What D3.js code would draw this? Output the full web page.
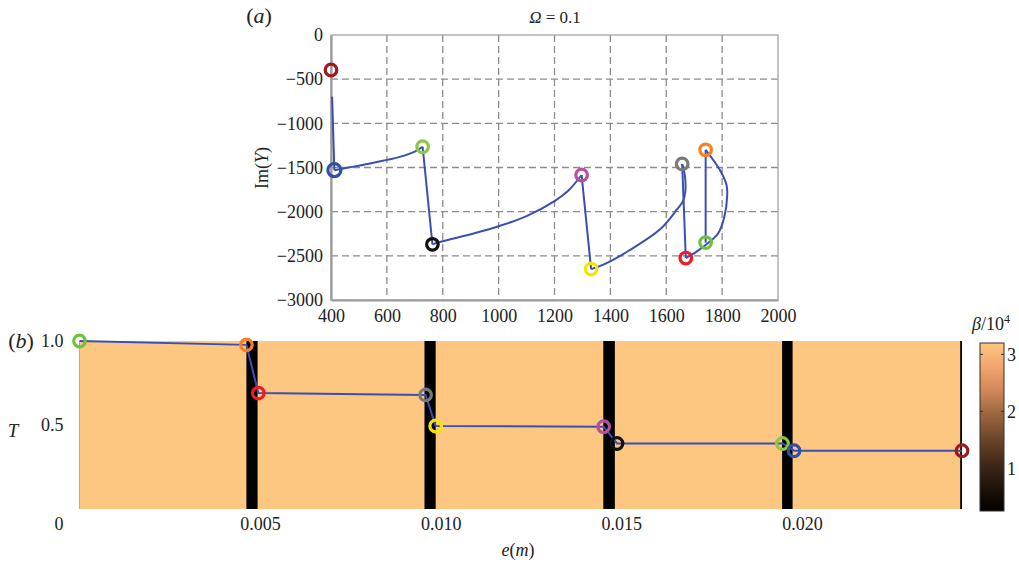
<!DOCTYPE html>
<html><head><meta charset="utf-8">
<script src="https://cdn.jsdelivr.net/npm/d3@7"></script>
<style>
html,body{margin:0;padding:0;background:#fff;}
svg{display:block;}
svg text{font-family:"Liberation Serif","Times New Roman",serif !important;fill:#222;}
</style></head>
<body>
<svg id="chart" width="1019" height="564"></svg>
<script>
// ---------- DATA ----------
// state markers (same order in both panels)
const markerColors = ["#72bf44", "#f7821f", "#ee1c25", "#7a7a7a", "#f2e600", "#b5519f", "#111111", "#8dc63f", "#2f4fa8", "#a3181f"];
// panel (a): Re/Im positions of markers
const reY = [1741, 1741, 1670, 1657, 1331, 1297, 763, 728, 412, 400];
const imY = [-2350, -1300, -2525, -1460, -2650, -1585, -2370, -1265, -1530, -396];
// panel (a): trajectory traced by the blue line
const pathRe = [1741, 1741, 1792, 1816, 1818, 1808, 1786, 1752, 1710, 1670,
                1657, 1667, 1668, 1660, 1637, 1578, 1470, 1375, 1331,
                1297, 1250, 1200, 1100, 1000, 900, 800, 763,
                728, 700, 640, 560, 480, 412, 404];
const pathIm = [-2350, -1300, -1528, -1700, -1830, -2057, -2245, -2350, -2450, -2525,
                -1460, -1600, -1780, -1880, -1981, -2200, -2434, -2600, -2650,
                -1585, -1760, -1880, -2050, -2165, -2255, -2335, -2370,
                -1265, -1320, -1385, -1440, -1490, -1530, -700];
// indices where the trajectory has a corner (segment boundaries)
const cornerIdx = [0, 1, 9, 10, 18, 19, 26, 27, 32, 33];
// panel (b): control path e (m) and T
const eVals = [0, 0.00462, 0.00495, 0.00958, 0.00986, 0.01451, 0.01488, 0.01946, 0.01978, 0.02443];
const tVals = [1.0, 0.977, 0.69, 0.679, 0.494, 0.49, 0.39, 0.39, 0.347, 0.347];
// panel (b): beta field (x10^4): background and low-beta bands
const betaBackground = 3.2;
const bandStart = [0.00462, 0.00955, 0.01450, 0.01945, 0.02438];
const bandEnd   = [0.00493, 0.00986, 0.01482, 0.01974, 0.02443];
const bandBeta  = [0.25, 0.25, 0.25, 0.25, 0.25];
// axes ticks
const reTicks = [400, 600, 800, 1000, 1200, 1400, 1600, 1800, 2000];
const imTicks = [0, -500, -1000, -1500, -2000, -2500, -3000];
const eTicks = [0, 0.005, 0.010, 0.015, 0.020];
const eTickLabels = ["0", "0.005", "0.010", "0.015", "0.020"];
const tTicks = [0.5, 1.0];
const betaTicks = [1, 2, 3];
// colormap stops (beta/10^4 -> colour)
const cmapVals = [0.25, 0.5, 1.0, 1.5, 2.0, 2.4, 2.8, 3.2];
const cmapCols = ["#000000", "#140b06", "#3a2416", "#6a4428", "#a26a43", "#d48a5a", "#f2a66f", "#fdc782"];

// ---------- DRAW ----------
const svg = d3.select("#chart");
const lineCol = "#3a4fb2";
const serif = '"Liberation Serif","Times New Roman",serif';

// ===== Panel (a) =====
const xa = d3.scaleLinear().domain([400, 2000]).range([331, 778]);
const ya = d3.scaleLinear().domain([-3000, 0]).range([300, 35]);
const ga = svg.append("g");

// grid
ga.selectAll("line.gx").data(reTicks.slice(1, -1)).join("line")
  .attr("x1", d => xa(d)).attr("x2", d => xa(d)).attr("y1", ya(0)).attr("y2", ya(-3000))
  .attr("stroke", "#8c8c8c").attr("stroke-width", 1.3).attr("stroke-dasharray", "7,4");
ga.selectAll("line.gy").data(imTicks.slice(1, -1)).join("line")
  .attr("y1", d => ya(d)).attr("y2", d => ya(d)).attr("x1", xa(400)).attr("x2", xa(2000))
  .attr("stroke", "#8c8c8c").attr("stroke-width", 1.3).attr("stroke-dasharray", "7,4");
// frame
ga.append("rect").attr("x", xa(400)).attr("y", ya(0)).attr("width", xa(2000) - xa(400)).attr("height", ya(-3000) - ya(0))
  .attr("fill", "none").attr("stroke", "#a5a5a5").attr("stroke-width", 1.3);

// axes via d3
const axB = d3.axisBottom(xa).tickValues(reTicks).tickSize(0).tickPadding(9).tickFormat(d3.format("d"));
const axL = d3.axisLeft(ya).tickValues(imTicks).tickSize(0).tickPadding(8).tickFormat(d3.format("d"));
const gB = ga.append("g").attr("transform", `translate(0,${ya(-3000)})`).call(axB);
const gL = ga.append("g").attr("transform", `translate(${xa(400)},0)`).call(axL);
[gB, gL].forEach(g => {
  g.attr("font-family", null);
  g.select(".domain").attr("stroke", "#9a9a9a").attr("stroke-width", 2.2);
  g.selectAll("text").style("font-family", serif).style("font-size", "18px").attr("fill", "#222");
});

// trajectory, drawn piecewise (smooth within a piece, corners between pieces)
const pathPts = pathRe.map((v, i) => [v, pathIm[i]]);
const pieces = d3.pairs(cornerIdx).map(([a, b]) => pathPts.slice(a, b + 1));
ga.selectAll("path.traj").data(pieces).join("path")
  .attr("d", d3.line().x(d => xa(d[0])).y(d => ya(d[1])).curve(d3.curveCatmullRom.alpha(0.5)))
  .attr("fill", "none").attr("stroke", lineCol).attr("stroke-width", 2).attr("stroke-linejoin", "round");
// markers
ga.selectAll("circle.m").data(reY.map((v, i) => ({x: v, y: imY[i], c: markerColors[i], i}))).join("circle")
  .attr("cx", d => xa(d.x)).attr("cy", d => ya(d.y)).attr("r", d => d.i === 8 ? 6.5 : 5.8)
  .attr("fill", "none").attr("stroke", d => d.c).attr("stroke-width", 3.2);

// labels
svg.append("text").attr("x", 259).attr("y", 23).attr("text-anchor", "middle").style("font-size", "22px")
  .html('(<tspan font-style="italic">a</tspan>)');
svg.append("text").attr("x", 555).attr("y", 23).attr("text-anchor", "middle").style("font-size", "17px")
  .html('<tspan font-style="italic">Ω</tspan> = 0.1');
svg.append("text").attr("transform", "translate(268,168) rotate(-90)").attr("text-anchor", "middle").style("font-size", "18px")
  .html('Im(<tspan font-style="italic">Y</tspan>)');

// ===== Panel (b) =====
const xb = d3.scaleLinear().domain([0, 0.02443]).range([79.5, 962]);
const yb = d3.scaleLinear().domain([0, 1]).range([509, 341]);
const cmap = d3.scaleLinear().domain(cmapVals).range(cmapCols).clamp(true);
const gb = svg.append("g");

gb.append("rect").attr("x", xb(0)).attr("y", yb(1)).attr("width", xb(0.02443) - xb(0)).attr("height", yb(0) - yb(1))
  .attr("fill", cmap(betaBackground));
gb.append("line").attr("x1", xb(0)).attr("x2", xb(0)).attr("y1", yb(1)).attr("y2", yb(0))
  .attr("stroke", "#b0b0b0").attr("stroke-width", 1);
gb.selectAll("rect.band").data(bandStart.map((s, i) => ({s, e: bandEnd[i], b: bandBeta[i]}))).join("rect")
  .attr("x", d => xb(d.s)).attr("width", d => Math.max(1.5, xb(d.e) - xb(d.s)))
  .attr("y", yb(1)).attr("height", yb(0) - yb(1)).attr("fill", d => cmap(d.b));

// axes (labels only)
const axBb = d3.axisBottom(xb).tickValues(eTicks).tickSize(0).tickPadding(8)
  .tickFormat((d, i) => eTickLabels[i]);
const gBb = gb.append("g").attr("transform", `translate(0,${yb(0)})`).call(axBb);
gBb.select(".domain").remove();
gBb.selectAll("text").style("font-family", serif).style("font-size", "18px").attr("fill", "#222");
gBb.selectAll(".tick").filter(d => d === 0).select("text").attr("dx", -21);
const axLb = d3.axisLeft(yb).tickValues(tTicks).tickSize(0).tickPadding(16).tickFormat(d3.format(".1f"));
const gLb = gb.append("g").attr("transform", `translate(${xb(0)},0)`).call(axLb);
gLb.select(".domain").remove();
gLb.selectAll("text").style("font-family", serif).style("font-size", "18px").attr("fill", "#222");

// path
const ctrlPts = eVals.map((v, i) => [v, tVals[i]]);
gb.append("path").datum(ctrlPts)
  .attr("d", d3.line().x(d => xb(d[0])).y(d => yb(d[1])))
  .attr("fill", "none").attr("stroke", lineCol).attr("stroke-width", 2);
gb.selectAll("circle.mb").data(ctrlPts.map((p, i) => ({p, c: markerColors[i], i}))).join("circle")
  .attr("cx", d => xb(d.p[0])).attr("cy", d => yb(d.p[1])).attr("r", 5.8)
  .attr("fill", "none").attr("stroke", d => d.c).attr("stroke-width", 3.2);

svg.append("text").attr("x", 21).attr("y", 348).attr("text-anchor", "middle").style("font-size", "22px")
  .html('(<tspan font-style="italic">b</tspan>)');
svg.append("text").attr("x", 13).attr("y", 437).attr("text-anchor", "middle").style("font-size", "19px")
  .style("font-style", "italic").text("T");
svg.append("text").attr("x", 518).attr("y", 556).attr("text-anchor", "middle").style("font-size", "18px")
  .html('<tspan font-style="italic">e</tspan>(<tspan font-style="italic">m</tspan>)');

// colour bar
const cb = d3.scaleLinear().domain([0.25, 3.2]).range([511, 343]);
const defs = svg.append("defs");
const grad = defs.append("linearGradient").attr("id", "cbgrad").attr("x1", 0).attr("x2", 0).attr("y1", 1).attr("y2", 0);
cmapVals.forEach((v, i) => grad.append("stop").attr("offset", (v - 0.25) / (3.2 - 0.25)).attr("stop-color", cmapCols[i]));
svg.append("rect").attr("x", 980).attr("y", cb(3.2)).attr("width", 24).attr("height", cb(0.25) - cb(3.2))
  .attr("fill", "url(#cbgrad)").attr("stroke", "#333").attr("stroke-width", 1);
const gcb = svg.append("g").attr("transform", "translate(1004,0)")
  .call(d3.axisRight(cb).tickValues(betaTicks).tickSize(0).tickPadding(3).tickFormat(d3.format("d")));
gcb.select(".domain").remove();
gcb.selectAll("text").style("font-family", serif).style("font-size", "18px").attr("fill", "#222");
svg.selectAll("line.cbt").data(betaTicks).join("line")
  .attr("x1", 980).attr("x2", 983).attr("y1", d => cb(d)).attr("y2", d => cb(d)).attr("stroke", "#333");
svg.selectAll("line.cbt2").data(betaTicks).join("line")
  .attr("x1", 1001).attr("x2", 1004).attr("y1", d => cb(d)).attr("y2", d => cb(d)).attr("stroke", "#333");
svg.append("text").attr("x", 972).attr("y", 330).style("font-size", "18px")
  .html('<tspan font-style="italic">β</tspan>/10<tspan dy="-7" style="font-size:12px">4</tspan>');
</script>
</body></html>
